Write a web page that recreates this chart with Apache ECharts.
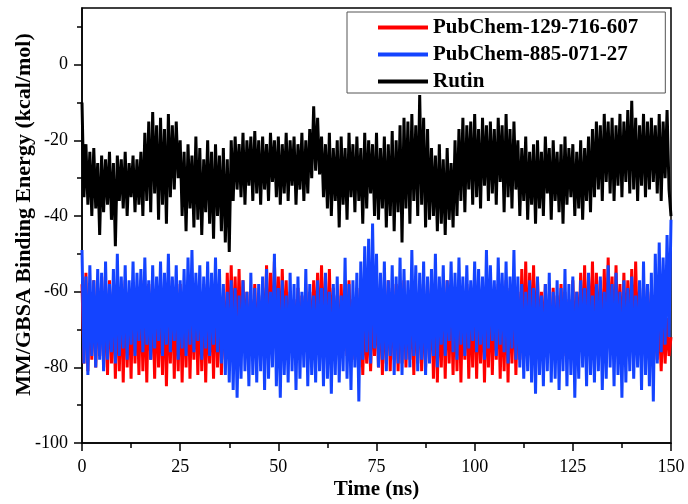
<!DOCTYPE html>
<html>
<head>
<meta charset="utf-8">
<script src="https://cdn.jsdelivr.net/npm/echarts@6/dist/echarts.min.js"></script>
<style>
html,body{margin:0;padding:0;background:#fff;}
#chart{width:688px;height:504px;}
</style>
</head>
<body>
<div id="chart"></div>
<script>
// Sampling: one value every 0.5 ns from 0 to 150 ns
var timeStepNs = 0.5;
var seriesNames = ['PubChem-129-716-607', 'PubChem-885-071-27', 'Rutin'];
var xTicks = [0, 25, 50, 75, 100, 125, 150];
var yTicks = [-100, -80, -60, -40, -20, 0];
var yMinorTicks = [-90, -70, -50, -30, -10, 10];

var pubchem129 = [
-58,-79,-55,-81,-60,-78,-57,-80,-59,-77,
-56,-80,-59,-82,-57,-79,-60,-83,-58,-81,
-59,-84,-57,-80,-60,-83,-58,-79,-61,-82,
-57,-81,-60,-84,-58,-78,-61,-83,-59,-80,
-60,-82,-58,-85,-61,-79,-57,-83,-59,-81,
-58,-84,-60,-80,-57,-83,-61,-78,-59,-82,
-60,-81,-58,-84,-61,-79,-59,-83,-57,-80,
-59,-82,-61,-78,-55,-76,-53,-77,-56,-75,
-54,-77,-57,-74,-60,-76,-62,-73,-58,-75,
-61,-76,-59,-74,-53,-77,-55,-75,-52,-73,
-56,-76,-54,-74,-57,-77,-60,-75,-62,-73,
-59,-76,-61,-74,-58,-77,-60,-75,-57,-73,
-55,-76,-53,-74,-56,-77,-54,-75,-59,-73,
-61,-76,-58,-74,-60,-77,-57,-75,-62,-78,
-59,-80,-62,-82,-64,-79,-66,-81,-63,-77,
-60,-80,-58,-82,-61,-79,-57,-81,-59,-78,
-58,-81,-60,-79,-57,-80,-61,-78,-59,-82,
-60,-79,-58,-81,-61,-80,-57,-78,-59,-83,
-58,-84,-61,-80,-59,-83,-57,-79,-60,-82,
-59,-81,-57,-84,-60,-78,-58,-83,-61,-80,
-57,-83,-60,-79,-58,-84,-61,-80,-59,-82,
-60,-78,-58,-83,-61,-81,-57,-84,-59,-79,
-58,-82,-60,-78,-54,-76,-52,-77,-55,-74,
-53,-76,-57,-73,-60,-75,-58,-77,-62,-74,
-59,-76,-61,-74,-58,-77,-60,-75,-62,-73,
-57,-76,-60,-74,-55,-77,-53,-75,-56,-73,
-52,-76,-55,-74,-57,-77,-54,-75,-51,-73,
-56,-76,-53,-74,-58,-77,-55,-75,-57,-73,
-54,-76,-52,-74,-59,-77,-61,-75,-58,-78,
-60,-80,-63,-78,-66,-81,-64,-79,-67,-77,
-72
];

var pubchem885 = [
-49,-79,-56,-82,-53,-77,-57,-80,-54,-78,
-55,-81,-52,-78,-58,-76,-54,-79,-50,-77,
-56,-75,-53,-78,-57,-74,-52,-77,-55,-73,
-54,-76,-51,-74,-57,-78,-53,-75,-56,-73,
-52,-77,-55,-74,-50,-76,-56,-73,-53,-78,
-57,-75,-54,-77,-51,-74,-49,-76,-55,-73,
-53,-78,-56,-75,-52,-77,-55,-74,-51,-76,
-54,-79,-58,-82,-60,-84,-57,-86,-59,-88,
-61,-83,-57,-81,-60,-85,-55,-82,-59,-84,
-58,-81,-56,-86,-54,-83,-60,-80,-50,-85,
-59,-88,-57,-82,-61,-84,-55,-81,-58,-86,
-56,-83,-60,-80,-54,-85,-58,-82,-61,-84,
-57,-81,-59,-85,-55,-83,-60,-87,-58,-82,
-56,-84,-61,-81,-51,-83,-58,-86,-57,-80,
-55,-89,-52,-78,-48,-76,-46,-79,-42,-75,
-50,-80,-55,-78,-52,-81,-57,-77,-53,-82,
-56,-79,-51,-82,-54,-78,-57,-80,-49,-77,
-53,-81,-55,-78,-52,-82,-56,-79,-54,-77,
-50,-80,-56,-74,-53,-77,-57,-73,-52,-76,
-55,-78,-51,-74,-56,-77,-53,-75,-57,-73,
-52,-76,-54,-74,-56,-78,-49,-75,-53,-73,
-57,-77,-51,-74,-55,-76,-52,-79,-56,-75,
-49,-78,-56,-80,-58,-83,-60,-81,-57,-84,
-59,-87,-56,-82,-61,-85,-58,-81,-55,-84,
-60,-83,-57,-86,-59,-81,-54,-85,-58,-82,
-56,-88,-60,-83,-57,-80,-59,-85,-55,-82,
-61,-84,-58,-81,-56,-86,-60,-83,-53,-80,
-58,-85,-55,-82,-60,-88,-57,-84,-59,-81,
-56,-83,-61,-80,-57,-86,-52,-82,-58,-85,
-55,-89,-50,-79,-47,-76,-51,-74,-45,-72,
-41
];

var rutin = [
-10,-35,-21,-37,-23,-40,-22,-38,-26,-45,
-24,-39,-25,-37,-23,-41,-26,-48,-24,-36,
-25,-38,-23,-40,-26,-35,-24,-39,-25,-37,
-23,-40,-18,-36,-15,-39,-12.5,-34,-16,-41,
-14,-37,-17,-42,-13,-35,-16,-33,-15,-30,
-20,-40,-23,-44,-21,-38,-24,-43,-19,-41,
-22,-45,-25,-39,-20,-42,-23,-46,-21,-40,
-24,-44,-22,-47,-25,-49.5,-20,-36,-19,-33,
-21,-35,-18,-37,-20,-32,-19,-36,-17.5,-34,
-20,-37,-19,-33,-21,-36,-18,-31,-20,-35,
-19,-37,-21,-34,-18,-36,-20,-32,-19,-37,
-21,-33,-18,-36,-20,-34,-17,-30,-11,-28,
-14,-29,-19,-35,-21,-38,-18,-40,-22,-36,
-20,-43,-19,-37,-22,-41,-18,-35,-21,-39,
-19,-36,-22,-42,-18,-38,-20,-34,-21,-40,
-18,-41,-22,-38,-19,-43,-21,-40,-17.5,-44,
-20,-39,-16,-47,-14,-38,-15,-42,-13,-36,
-16,-40,-8,-37,-14,-43,-17,-41,-22,-40,
-24,-44,-21,-42,-25,-45,-22,-41,-26,-43,
-20,-40,-17,-36,-14,-39,-16,-33,-15,-37,
-13,-35,-17,-38,-14,-32,-16,-36,-15,-34,
-17,-37,-14,-31,-16,-39,-13,-35,-17,-38,
-15,-33,-20,-40,-22,-36,-19,-41,-23,-37,
-21,-42,-20,-38,-23,-40,-19,-34,-22,-41,
-20,-36,-23,-39,-21,-42,-19,-37,-22,-35,
-21,-40,-23,-38,-20,-41,-22,-36,-19,-39,
-17,-35,-15,-33,-16,-36,-13,-31,-15,-34,
-14,-36,-16,-32,-13,-35,-15,-31,-12,-34,
-9.5,-33,-14,-36,-16,-32,-13,-35,-15,-33,
-14,-31,-16,-34,-13,-36,-15,-30,-12,-33,
-40
];

function toPairs(values) {
  return values.map(function (v, i) { return [i * timeStepNs, v]; });
}

var serif = '"Liberation Serif", "Times New Roman", serif';
var chart = echarts.init(document.getElementById('chart'), null, {renderer: 'canvas'});

chart.setOption({
  animation: false,
  backgroundColor: '#fff',
  grid: {
    left: 82, right: 17, top: 8, bottom: 61,
    containLabel: false, outerBoundsMode: 'none',
    show: true, borderColor: '#000', borderWidth: 1.5, backgroundColor: 'transparent'
  },
  legend: {
    data: seriesNames,
    orient: 'vertical',
    left: 347, top: 12,
    padding: [5, 27, 1, 31],
    itemGap: 6,
    itemWidth: 50,
    itemHeight: 4,
    icon: 'rect',
    borderColor: '#555',
    borderWidth: 1,
    backgroundColor: '#fff',
    textStyle: {fontFamily: serif, fontWeight: 'bold', fontSize: 21, color: '#000'}
  },
  xAxis: {
    type: 'value', min: 0, max: 150, interval: 25,
    name: 'Time (ns)', nameLocation: 'middle', nameGap: 36, nameMoveOverlap: false,
    nameTextStyle: {fontFamily: serif, fontWeight: 'bold', fontSize: 21, color: '#000'},
    axisLine: {show: true, onZero: false, lineStyle: {color: '#000', width: 1.5}},
    axisTick: {show: true, inside: false, length: 8, lineStyle: {color: '#000', width: 1.5}},
    minorTick: {show: true, splitNumber: 2, length: 5, lineStyle: {color: '#000', width: 1.5}},
    axisLabel: {fontFamily: serif, fontSize: 18, color: '#000', margin: 15,
      alignMinLabel: 'center', alignMaxLabel: 'center'},
    splitLine: {show: false}
  },
  yAxis: [{
    type: 'value', min: -100, max: 15, interval: 20,
    name: 'MM/GBSA Binding Energy (kcal/mol)', nameLocation: 'middle', nameGap: 47, nameMoveOverlap: false,
    nameTextStyle: {fontFamily: serif, fontWeight: 'bold', fontSize: 22, color: '#000', padding: [0, 0, 0, 22]},
    axisLine: {show: true, onZero: false, lineStyle: {color: '#000', width: 1.5}},
    axisTick: {show: true, inside: false, length: 8, lineStyle: {color: '#000', width: 1.5},
      customValues: yTicks},
    axisLabel: {fontFamily: serif, fontSize: 18, color: '#000', margin: 14,
      customValues: yTicks},
    splitLine: {show: false}
  }, {
    type: 'value', min: -100, max: 15, position: 'left', offset: 0,
    axisLine: {show: false, onZero: false},
    axisTick: {show: true, inside: false, length: 5, lineStyle: {color: '#000', width: 1.5},
      customValues: yMinorTicks},
    axisLabel: {show: false},
    splitLine: {show: false}
  }],
  series: [{
    name: seriesNames[0], type: 'line', data: toPairs(pubchem129),
    showSymbol: false, symbol: 'none', color: '#ff0000',
    lineStyle: {width: 3, color: '#ff0000', join: 'bevel'}
  }, {
    name: seriesNames[1], type: 'line', data: toPairs(pubchem885),
    showSymbol: false, symbol: 'none', color: '#1444ff',
    lineStyle: {width: 3, color: '#1444ff', join: 'bevel'}
  }, {
    name: seriesNames[2], type: 'line', data: toPairs(rutin),
    showSymbol: false, symbol: 'none', color: '#000000',
    lineStyle: {width: 3, color: '#000000', join: 'bevel'}
  }]
});
</script>
</body>
</html>
